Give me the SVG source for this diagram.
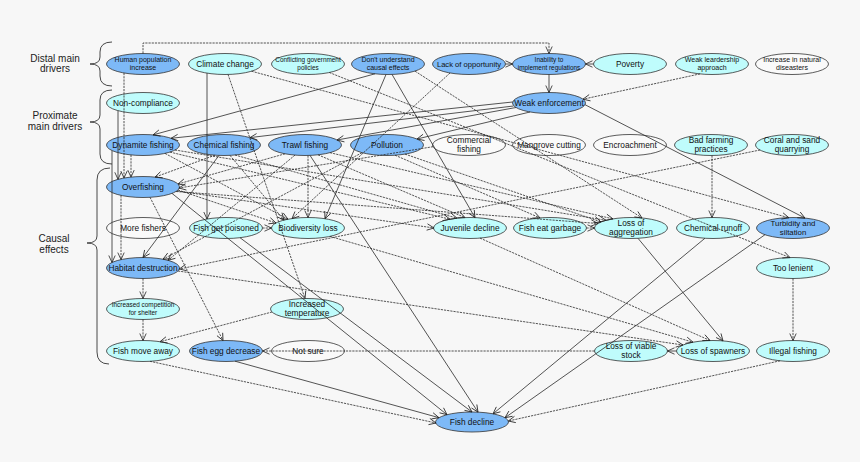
<svg xmlns="http://www.w3.org/2000/svg" width="860" height="462" viewBox="0 0 860 462">
<defs>
<marker id="a" markerUnits="userSpaceOnUse" markerWidth="9" markerHeight="8" refX="7" refY="3.2" orient="auto" overflow="visible">
<path d="M0,0 L7,3.2 L0,6.4" fill="none" stroke="#222" stroke-width="0.8" stroke-dasharray="none"/>
</marker>
</defs>
<style>
.bg{fill:#f7f7f7}
.n ellipse{stroke:#333;stroke-width:0.8}
.b ellipse{fill:#7db9f7}
.y ellipse{fill:#bffcfc}
.w ellipse{fill:#fafafa}
text{font-family:"Liberation Sans",Arial,sans-serif;fill:#111;text-anchor:middle}
.t{font-size:8.3px}
.s7{font-size:7px}
.s6{font-size:6.4px}
.lab{font-size:10px;fill:#222}
.c line,.c path{stroke:#2a2a2a;stroke-width:0.8;fill:none;marker-end:url(#a)}
.c .d{stroke-dasharray:2.2,1}
.br{fill:none;stroke:#333;stroke-width:0.9}
</style>
<rect class="bg" x="0" y="0" width="860" height="462"/>
<g id="labels">
<text class="lab" x="55" y="61.5">Distal main</text>
<text class="lab" x="55" y="72">drivers</text>
<text class="lab" x="55" y="119">Proximate</text>
<text class="lab" x="55" y="130">main drivers</text>
<text class="lab" x="54" y="242">Causal</text>
<text class="lab" x="54" y="253">effects</text>
<path class="br" d="M112,42 Q100,42 100,52 L100,57 Q100,64 90,64 Q100,64 100,71 L100,76 Q100,86 112,86"/>
<path class="br" d="M112,90 Q100,90 100,100 L100,115 Q100,122 90,122 Q100,122 100,129 L100,154 Q100,164 112,164"/>
<path class="br" d="M110,168 Q97,168 97,180 L97,236 Q97,243 87,243 Q97,243 97,250 L97,352 Q97,364 109,364"/>
</g>
<g id="HP" class="n b"><ellipse cx="143" cy="64" rx="36.5" ry="10.5"/><text class="s7" x="143" y="62">Human population</text><text class="s7" x="143" y="69.5">increase</text></g>
<g id="CC" class="n y"><ellipse cx="225" cy="64" rx="36.5" ry="10.5"/><text class="t" x="225" y="67">Climate change</text></g>
<g id="CG" class="n y"><ellipse cx="308" cy="64" rx="36.5" ry="10.5"/><text class="s6" x="308" y="62">Conflicting government</text><text class="s6" x="308" y="69.5">policies</text></g>
<g id="DU" class="n b"><ellipse cx="388" cy="64" rx="36.5" ry="10.5"/><text class="s7" x="388" y="62">Don't understand</text><text class="s7" x="388" y="69.5">causal effects</text></g>
<g id="LO" class="n b"><ellipse cx="469" cy="64" rx="36.5" ry="10.5"/><text class="t" x="469" y="67" style="font-size:7.6px">Lack of opportunity</text></g>
<g id="IN" class="n b"><ellipse cx="549" cy="64" rx="36.5" ry="10.5"/><text class="s6" x="549" y="62">Inability to</text><text class="s6" x="549" y="69.5">implement regulations</text></g>
<g id="PV" class="n y"><ellipse cx="630" cy="64" rx="36.5" ry="10.5"/><text class="t" x="630" y="67">Poverty</text></g>
<g id="WL" class="n y"><ellipse cx="712" cy="64" rx="36.5" ry="10.5"/><text class="s7" x="712" y="62">Weak leardership</text><text class="s7" x="712" y="69.5">approach</text></g>
<g id="ND" class="n w"><ellipse cx="792" cy="64" rx="36.5" ry="10.5"/><text class="s7" x="792" y="62">Increase in natural</text><text class="s7" x="792" y="69.5">diseasters</text></g>
<g id="NC" class="n y"><ellipse cx="143" cy="103" rx="36.5" ry="10.5"/><text class="t" x="143" y="106">Non-compliance</text></g>
<g id="WE" class="n b"><ellipse cx="549" cy="103" rx="36.5" ry="10.5"/><text class="t" x="549" y="106">Weak enforcement</text></g>
<g id="DF" class="n b"><ellipse cx="143" cy="145" rx="36.5" ry="10.5"/><text class="t" x="143" y="148">Dynamite fishing</text></g>
<g id="CF" class="n b"><ellipse cx="224" cy="145" rx="36.5" ry="10.5"/><text class="t" x="224" y="148">Chemical fishing</text></g>
<g id="TF" class="n b"><ellipse cx="305" cy="145" rx="36.5" ry="10.5"/><text class="t" x="305" y="148">Trawl fishing</text></g>
<g id="PO" class="n b"><ellipse cx="387" cy="145" rx="36.5" ry="10.5"/><text class="t" x="387" y="148">Pollution</text></g>
<g id="CM" class="n w"><ellipse cx="469" cy="145" rx="36.5" ry="10.5"/><text class="t" x="469" y="143">Commercial</text><text class="t" x="469" y="151.5">fishing</text></g>
<g id="MC" class="n w"><ellipse cx="549" cy="145" rx="36.5" ry="10.5"/><text class="t" x="549" y="148">Mangrove cutting</text></g>
<g id="EN" class="n w"><ellipse cx="630" cy="145" rx="36.5" ry="10.5"/><text class="t" x="630" y="148">Encroachment</text></g>
<g id="BF" class="n y"><ellipse cx="711" cy="145" rx="36.5" ry="10.5"/><text class="t" x="711" y="143">Bad farming</text><text class="t" x="711" y="151.5">practices</text></g>
<g id="CS" class="n y"><ellipse cx="792" cy="145" rx="36.5" ry="10.5"/><text class="t" x="792" y="143">Coral and sand</text><text class="t" x="792" y="151.5">quarrying</text></g>
<g id="OF" class="n b"><ellipse cx="143" cy="187" rx="36.5" ry="10.5"/><text class="t" x="143" y="190">Overfishing</text></g>
<g id="MF" class="n w"><ellipse cx="143" cy="228" rx="36.5" ry="10.5"/><text class="t" x="143" y="231">More fishers</text></g>
<g id="FP" class="n y"><ellipse cx="226" cy="228" rx="36.5" ry="10.5"/><text class="t" x="226" y="231">Fish get poisoned</text></g>
<g id="BL" class="n y"><ellipse cx="308" cy="228" rx="36.5" ry="10.5"/><text class="t" x="308" y="231">Biodiversity loss</text></g>
<g id="JD" class="n y"><ellipse cx="470" cy="228" rx="36.5" ry="10.5"/><text class="t" x="470" y="231">Juvenile decline</text></g>
<g id="FG" class="n y"><ellipse cx="550" cy="228" rx="36.5" ry="10.5"/><text class="t" x="550" y="231">Fish eat garbage</text></g>
<g id="LA" class="n y"><ellipse cx="631" cy="228" rx="36.5" ry="10.5"/><text class="t" x="631" y="226">Loss of</text><text class="t" x="631" y="234.5">aggregation</text></g>
<g id="CR" class="n y"><ellipse cx="713" cy="228" rx="36.5" ry="10.5"/><text class="t" x="713" y="231">Chemical runoff</text></g>
<g id="TS" class="n b"><ellipse cx="793" cy="228" rx="36.5" ry="10.5"/><text class="t" x="793" y="226" style="font-size:7.8px">Turbidity and</text><text class="t" x="793" y="234.5" style="font-size:7.8px">siltation</text></g>
<g id="HD" class="n b"><ellipse cx="143" cy="268" rx="36.5" ry="10.5"/><text class="t" x="143" y="271">Habitat destruction</text></g>
<g id="TL" class="n y"><ellipse cx="793" cy="268" rx="36.5" ry="10.5"/><text class="t" x="793" y="271">Too lenient</text></g>
<g id="IC" class="n y"><ellipse cx="143" cy="309" rx="36.5" ry="10.5"/><text class="s6" x="143" y="307">Increased competition</text><text class="s6" x="143" y="314.5">for shelter</text></g>
<g id="IT" class="n y"><ellipse cx="307" cy="309" rx="36.5" ry="10.5"/><text class="t" x="307" y="307">Increased</text><text class="t" x="307" y="315.5">temperature</text></g>
<g id="FM" class="n y"><ellipse cx="143" cy="351" rx="36.5" ry="10.5"/><text class="t" x="143" y="354">Fish move away</text></g>
<g id="FE" class="n b"><ellipse cx="226" cy="351" rx="36.5" ry="10.5"/><text class="t" x="226" y="354">Fish egg decrease</text></g>
<g id="NS" class="n w"><ellipse cx="308" cy="351" rx="36.5" ry="10.5"/><text class="t" x="308" y="354">Not sure</text></g>
<g id="LV" class="n y"><ellipse cx="631" cy="351" rx="36.5" ry="10.5"/><text class="t" x="631" y="349">Loss of viable</text><text class="t" x="631" y="357.5">stock</text></g>
<g id="LS" class="n y"><ellipse cx="713" cy="351" rx="36.5" ry="10.5"/><text class="t" x="713" y="354">Loss of spawners</text></g>
<g id="IF" class="n y"><ellipse cx="793" cy="351" rx="36.5" ry="10.5"/><text class="t" x="793" y="354">Illegal fishing</text></g>
<g id="FD" class="n b"><ellipse cx="472" cy="422" rx="36.5" ry="10"/><text class="t" x="472" y="425">Fish decline</text></g>
<g id="connectors" class="c">
<path class="d" d="M143,53.5 V43 H549 V53.5"/>
<line class="d" x1="124" y1="73" x2="124" y2="178"/>
<line x1="118" y1="110.7" x2="118" y2="179.3"/>
<line x1="112" y1="150.5" x2="112" y2="262.5"/>
<line class="d" x1="131" y1="154.9" x2="131" y2="177.1"/>
<line class="d" x1="121" y1="195.4" x2="121" y2="259.6"/>
<line x1="207" y1="73.1" x2="207" y2="219"/>
<line class="d" x1="228" y1="74.4" x2="305" y2="298.5"/>
<line class="d" x1="251.5" y1="71.2" x2="789" y2="217.8"/>
<line class="d" x1="329.3" y1="72.5" x2="790" y2="257.6"/>
<line x1="375" y1="73.8" x2="153" y2="134.9"/>
<line x1="386" y1="74.5" x2="325" y2="218.7"/>
<line x1="392" y1="74.4" x2="475" y2="217.6"/>
<line class="d" x1="415" y1="71.1" x2="642" y2="218"/>
<line x1="505.5" y1="64" x2="512.5" y2="64"/>
<line class="d" x1="450" y1="73" x2="292" y2="218.6"/>
<line x1="593.5" y1="64" x2="585.5" y2="64"/>
<line x1="549" y1="74.5" x2="549" y2="92.5"/>
<line class="d" x1="700" y1="73.9" x2="583" y2="99.2"/>
<line x1="512.6" y1="102" x2="171" y2="138.3"/>
<line x1="513.5" y1="106" x2="250" y2="137.6"/>
<line x1="516" y1="107.5" x2="337" y2="140"/>
<line x1="530" y1="112" x2="417" y2="139"/>
<line x1="585" y1="104.7" x2="805" y2="218.1"/>
<line class="d" x1="165" y1="153.4" x2="288" y2="219.2"/>
<line class="d" x1="170" y1="152.1" x2="450" y2="219.2"/>
<line class="d" x1="175" y1="150" x2="606" y2="220.3"/>
<line class="d" x1="215" y1="155.2" x2="155" y2="177.1"/>
<line x1="219" y1="155.4" x2="143" y2="257.5"/>
<line class="d" x1="235" y1="155" x2="457" y2="218.2"/>
<line class="d" x1="230" y1="155.4" x2="284" y2="220.1"/>
<line class="d" x1="285" y1="153.8" x2="178" y2="184"/>
<line class="d" x1="295" y1="155.1" x2="168" y2="260.3"/>
<line class="d" x1="308" y1="155.5" x2="308" y2="217.5"/>
<line class="d" x1="318" y1="154.8" x2="465" y2="217.6"/>
<line class="d" x1="330" y1="152.7" x2="613" y2="218.9"/>
<line x1="310" y1="155.4" x2="478" y2="412.1"/>
<line class="d" x1="362" y1="152.7" x2="163" y2="259.2"/>
<line class="d" x1="395" y1="155.2" x2="540" y2="217.9"/>
<line class="d" x1="405" y1="154.1" x2="601" y2="222"/>
<line class="d" x1="433" y1="146.7" x2="179" y2="188"/>
<line class="d" x1="712" y1="155.5" x2="712" y2="217.5"/>
<line class="d" x1="760" y1="150" x2="179.3" y2="269"/>
<line x1="705" y1="238.2" x2="493" y2="413.8"/>
<line x1="765" y1="234.7" x2="505" y2="417.7"/>
<line x1="638" y1="238.3" x2="723" y2="340.9"/>
<line class="d" x1="480" y1="238.1" x2="710" y2="340.5"/>
<line class="d" x1="330" y1="236.4" x2="693" y2="342.2"/>
<line class="d" x1="178" y1="271" x2="683" y2="345"/>
<line x1="676.5" y1="351" x2="667.5" y2="351"/>
<line class="d" x1="594.5" y1="351" x2="262.5" y2="351"/>
<line class="d" x1="793" y1="278.5" x2="793" y2="340.5"/>
<line class="d" x1="780" y1="360.8" x2="508.3" y2="421"/>
<line class="d" x1="150" y1="361.3" x2="436" y2="423"/>
<line x1="235" y1="361.2" x2="439" y2="417.7"/>
<line class="d" x1="272" y1="312" x2="160" y2="341.7"/>
<line class="d" x1="143" y1="319.5" x2="143" y2="340.5"/>
<line class="d" x1="143" y1="278.5" x2="143" y2="298.5"/>
<line class="d" x1="150" y1="197.3" x2="223" y2="340.5"/>
<line x1="172" y1="193.4" x2="447" y2="414.7"/>
<line x1="240" y1="237.7" x2="472" y2="412"/>
<line class="d" x1="262.5" y1="228" x2="271.5" y2="228"/>
<line class="d" x1="178" y1="190" x2="276" y2="223"/>
<line class="d" x1="177" y1="191" x2="434" y2="228"/>
<line class="d" x1="176" y1="191.5" x2="598" y2="223.5"/>
<line class="d" x1="586.5" y1="228" x2="594.5" y2="228"/>
</g>
</svg>
